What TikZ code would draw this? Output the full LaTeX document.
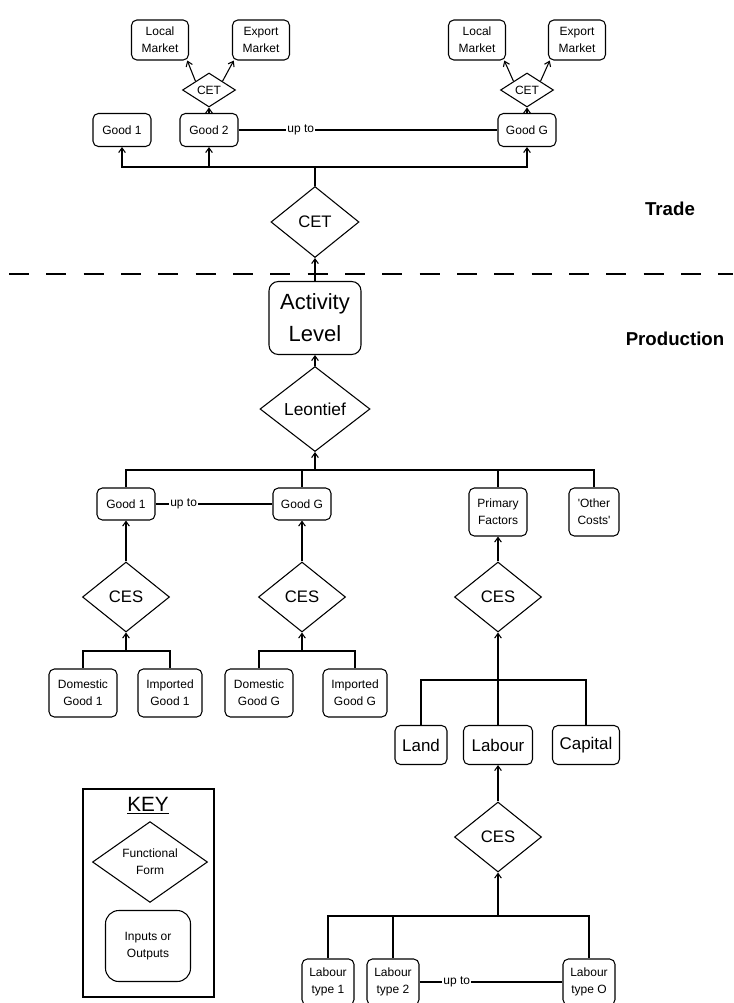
\documentclass[tikz,border=0pt]{standalone}
\usepackage{fontspec}
\setmainfont{Liberation Sans}
\usetikzlibrary{shapes.geometric,arrows.meta}

\tikzset{
	box/.style={draw, rounded corners=4pt, align=center, inner sep=1pt,
		font=\fontsize{9}{12.5}\selectfont},
	form/.style={draw, diamond, inner sep=0pt, align=center},
	upto/.style={fill=white, inner sep=1pt, font=\fontsize{9}{11}\selectfont},
}

\begin{document}
\begin{tikzpicture}[x=0.75pt, y=-0.75pt, line width=0.8pt,
		>={Straight Barb[length=3.5pt, width=5pt]}]
		\useasboundingbox (0, 0) rectangle (733, 1003);

		% trade
		\node[box, minimum width=42.75pt, minimum height=30pt] (lm1) at (160, 40) {Local\\Market};
		\node[box, minimum width=42.75pt, minimum height=30pt] (em1) at (261, 40) {Export\\Market};
		\node[box, minimum width=42.75pt, minimum height=30pt] (lm2) at (477, 40) {Local\\Market};
		\node[box, minimum width=42.75pt, minimum height=30pt] (em2) at (577, 40) {Export\\Market};
		\node[form, minimum width=39.75pt, minimum height=25.5pt, font=\fontsize{9}{11}\selectfont] (cet1) at (209, 90) {CET};
		\node[form, minimum width=39.75pt, minimum height=25.5pt, font=\fontsize{9}{11}\selectfont] (cet2) at (527, 90) {CET};
		\node[box, minimum width=43.5pt, minimum height=24.75pt] (tg1) at (122, 130) {Good 1};
		\node[box, minimum width=43.5pt, minimum height=24.75pt] (tg2) at (209, 130) {Good 2};
		\node[box, minimum width=43.5pt, minimum height=24.75pt] (tgG) at (527, 130) {Good G};
		\node[form, minimum width=66pt, minimum height=53.25pt, font=\fontsize{12.5}{14}\selectfont] (cet) at (315, 222) {CET};
		\coordinate (tbus) at (315, 167);

		\draw[->] (cet1.north west) -- (lm1.-37);
		\draw[->] (cet1.north east) -- (em1.-143);
		\draw[->] (cet2.north west) -- (lm2.-37);
		\draw[->] (cet2.north east) -- (em2.-143);
		\draw[->] (tg2.north) -- (cet1.south);
		\draw[->] (tgG.north) -- (cet2.south);
		\draw (tg2.east) -- node[upto, pos=0.24] {up to} (tgG.west);
		\draw (cet.north) -- (tbus);
		\draw[->] (tbus) -| (tg1.south);
		\draw[->] (tbus) -| (tg2.south);
		\draw[->] (tbus) -| (tgG.south);

		\node[font=\fontsize{14}{16}\selectfont\bfseries] (trade) at (670, 209) {Trade};
		\node[font=\fontsize{14}{16}\selectfont\bfseries] (prod) at (675, 339) {Production};
		\draw[line width=1pt, dash pattern=on 15pt off 13pt] (9, 274) -- (733, 274);

		% production
		\node[box, rounded corners=7pt, minimum width=69pt, minimum height=54.75pt,
			font=\fontsize{16.5}{24}\selectfont] (act) at (315, 318) {Activity\\Level};
		\node[form, minimum width=82.5pt, minimum height=63.75pt, font=\fontsize{13}{15}\selectfont] (leon) at (315, 409) {Leontief};
		\draw[->] (act.north) -- (cet.south);
		\draw[->] (leon.north) -- (act.south);

		\node[box, minimum width=43.5pt, minimum height=24pt] (pg1) at (126, 504) {Good 1};
		\node[box, minimum width=43.5pt, minimum height=24pt] (pgG) at (302, 504) {Good G};
		\node[box, minimum width=43.5pt, minimum height=36pt] (prim) at (498, 512) {Primary\\Factors};
		\node[box, minimum width=37.5pt, minimum height=36pt] (other) at (594, 512) {\textquotesingle Other\\Costs\textquotesingle};
		\coordinate (pbus) at (315, 470);
		\draw[->] (pbus) -- (leon.south);
		\draw (pbus) -| (pg1.north);
		\draw (pbus) -| (pgG.north);
		\draw (pbus) -| (prim.north);
		\draw (pbus) -| (other.north);
		\draw (pg1.east) -- node[upto, pos=0.24] {up to} (pgG.west);

		\node[form, minimum width=65.25pt, minimum height=52.5pt, font=\fontsize{12.5}{14}\selectfont] (ces1) at (126, 597) {CES};
		\node[form, minimum width=65.25pt, minimum height=52.5pt, font=\fontsize{12.5}{14}\selectfont] (ces2) at (302, 597) {CES};
		\node[form, minimum width=65.25pt, minimum height=52.5pt, font=\fontsize{12.5}{14}\selectfont] (ces3) at (498, 597) {CES};
		\draw[->] (ces1.north) -- (pg1.south);
		\draw[->] (ces2.north) -- (pgG.south);
		\draw[->] (ces3.north) -- (prim.south);

		\node[box, minimum width=51pt, minimum height=36pt] (dom1) at (83, 693) {Domestic\\Good 1};
		\node[box, minimum width=48pt, minimum height=36pt] (imp1) at (170, 693) {Imported\\Good 1};
		\node[box, minimum width=51pt, minimum height=36pt] (domG) at (259, 693) {Domestic\\Good G};
		\node[box, minimum width=48pt, minimum height=36pt] (impG) at (355, 693) {Imported\\Good G};
		\coordinate (bus1) at (126, 651);
		\coordinate (bus2) at (302, 651);
		\draw[->] (bus1) -- (ces1.south);
		\draw (bus1) -| (dom1.north);
		\draw (bus1) -| (imp1.north);
		\draw[->] (bus2) -- (ces2.south);
		\draw (bus2) -| (domG.north);
		\draw (bus2) -| (impG.north);

		% factors
		\node[box, minimum width=39pt, minimum height=29.25pt, font=\fontsize{12.7}{14}\selectfont] (land) at (421, 745) {Land};
		\node[box, minimum width=51.75pt, minimum height=29.25pt, font=\fontsize{12.7}{14}\selectfont] (labour) at (498, 745) {Labour};
		\node[box, minimum width=50.25pt, minimum height=29.25pt, font=\fontsize{12.7}{14}\selectfont] (capital) at (586, 745) {Capital};
		\coordinate (fbus) at (498, 680);
		\draw[->] (fbus) -- (ces3.south);
		\draw (fbus) -| (land.north);
		\draw (fbus) -| (capital.north);
		\draw (labour.north) -- (fbus);

		\node[form, minimum width=65.25pt, minimum height=52.5pt, font=\fontsize{12.5}{14}\selectfont] (ces4) at (498, 837) {CES};
		\draw[->] (ces4.north) -- (labour.south);

		\node[box, minimum width=39pt, minimum height=34.5pt] (lt1) at (328, 982) {Labour\\type 1};
		\node[box, minimum width=39pt, minimum height=34.5pt] (lt2) at (393, 982) {Labour\\type 2};
		\node[box, minimum width=39pt, minimum height=34.5pt] (ltO) at (589, 982) {Labour\\type O};
		\coordinate (lbus) at (498, 916);
		\draw[->] (lbus) -- (ces4.south);
		\draw (lbus) -| (lt1.north);
		\draw (lbus) -| (lt2.north);
		\draw (lbus) -| (ltO.north);
		\draw (lt2.east) -- node[upto, pos=0.26] {up to} (ltO.west);

		% key
		\node[draw, minimum width=98.25pt, minimum height=156pt] (key) at (148.5, 893) {};
		\node[font=\fontsize{15.5}{17}\selectfont] (keytitle) at (148, 806) {\underline{KEY}};
		\node[form, minimum width=86.25pt, minimum height=53.25pt, font=\fontsize{9}{12.5}\selectfont] (keyform) at (150, 862) {Functional\\Form};
		\node[box, rounded corners=10pt, minimum width=63.75pt, minimum height=53.25pt] (keybox) at (148, 946) {Inputs or\\Outputs};
	\end{tikzpicture}
\end{document}
